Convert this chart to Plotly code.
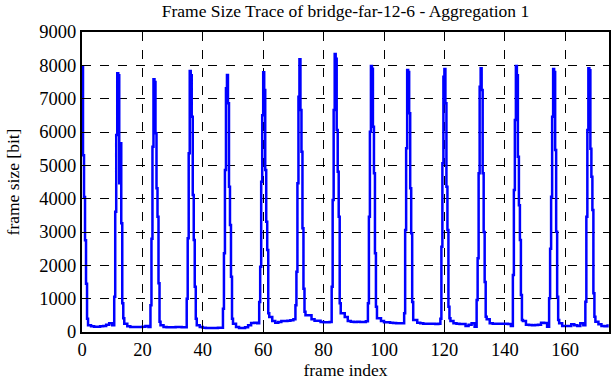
import plotly.graph_objects as go

# I-frame peak positions (frame index)
peak_frames = [0, 12, 24, 36, 48, 60, 72, 84, 96, 108, 120, 132, 144, 156, 168]
# sub-frame offsets around each peak
peak_offsets = [-1.33, -1.0, -0.67, -0.33, 0.0, 0.33, 0.67, 1.0, 1.33, 1.67]
# frame sizes [bit] around each peak (None = outside the trace)
peak_profiles = [
    [None, None, None, None, 7950, 5300, 4050, 2750, 1450, 400],
    [1060, 3610, 5910, 7760, 7700, 4460, 5660, 3260, 860, 410],
    [800, 2800, 5560, 7580, 7500, 5960, 4310, 3460, 1460, 310],
    [1000, 2810, 5360, 7830, 7700, 6460, 4110, 2760, 1360, 400],
    [700, 2360, 4860, 7310, 7710, 6860, 4360, 3210, 1660, 400],
    [900, 1960, 4510, 6500, 7790, 7260, 4860, 3310, 2460, 560],
    [800, 1810, 4460, 7060, 8180, 6660, 5410, 3110, 1300, 610],
    [1360, 3960, 6660, 8340, 8200, 6060, 4810, 3460, 860, 560],
    [860, 3460, 6010, 7980, 7900, 6160, 4760, 2360, 760, 410],
    [560, 3060, 5510, 7860, 7800, 6560, 4310, 2960, 900, 360],
    [400, 2560, 5060, 7660, 7890, 6860, 4360, 3060, 760, 410],
    [960, 2210, 4760, 7360, 7910, 7260, 4760, 3000, 1500, 460],
    [1710, 4260, 6360, 7980, 7700, 5260, 3800, 2760, 1110, 360],
    [1010, 2500, 4060, 6460, 7890, 7800, 5460, 3010, 1060, 360],
    [910, 3460, 6060, 7910, 7850, 5500, 4660, 3660, 1160, 460],
]
# frame sizes [bit] of frames p+2 ... p+10 after each peak
gop_tails = [
    [200, 170, 160, 160, 170, 180, 220, 260, 200],
    [250, 170, 150, 150, 150, 150, 160, 180, 150],
    [200, 150, 140, 140, 140, 150, 150, 140, 140],
    [200, 150, 130, 120, 120, 120, 120, 130, 130],
    [250, 150, 120, 120, 140, 200, 270, 280, 260],
    [450, 330, 280, 300, 330, 330, 340, 350, 380],
    [500, 500, 380, 340, 340, 300, 290, 290, 300],
    [560, 450, 330, 310, 300, 310, 300, 300, 320],
    [410, 330, 290, 290, 280, 270, 260, 260, 260],
    [360, 280, 260, 250, 250, 250, 250, 240, 250],
    [330, 260, 250, 240, 240, 180, 220, 260, 160],
    [380, 260, 250, 250, 250, 250, 250, 240, 180],
    [330, 220, 210, 200, 210, 220, 280, 270, 160],
    [260, 180, 180, 180, 230, 200, 180, 260, 200],
    [310, 230, 180, 170, 230],
]
x_ticks = [0, 20, 40, 60, 80, 100, 120, 140, 160]
y_ticks = [0, 1000, 2000, 3000, 4000, 5000, 6000, 7000, 8000, 9000]

xs, ys = [], []
for p, prof, tail in zip(peak_frames, peak_profiles, gop_tails):
    for off, v in zip(peak_offsets, prof):
        if v is None:
            continue
        xs.append(p + off)
        ys.append(v)
    for i, v in enumerate(tail):
        xs.append(p + 2 + i)
        ys.append(v)

fig = go.Figure()
fig.add_trace(go.Scatter(x=xs, y=ys, mode="lines", line_shape="hv",
                         line=dict(color="#0000ff", width=2.5), showlegend=False))

axis_common = dict(
    showline=True, linewidth=2, linecolor="black", mirror="allticks",
    ticks="inside", ticklen=6, tickwidth=1, tickcolor="black",
    showgrid=True, gridcolor="black", gridwidth=1, griddash="dash",
    zeroline=False, tickfont=dict(size=18.5, color="black"), automargin=False,
)
fig.update_xaxes(range=[0, 174.5], tickvals=x_ticks,
                 title=dict(text="frame index", font=dict(size=17.5), standoff=2),
                 **axis_common)
fig.update_yaxes(range=[0, 9000], tickvals=y_ticks,
                 title=dict(text="frame size [bit]", font=dict(size=17.5), standoff=15),
                 **axis_common)
fig.update_layout(
    width=612, height=382,
    margin=dict(l=82, r=3, t=32, b=50, autoexpand=False),
    paper_bgcolor="white", plot_bgcolor="white",
    font=dict(family="Liberation Serif", color="black"),
    title=dict(text="Frame Size Trace of bridge-far-12-6 - Aggregation 1",
               font=dict(size=17.5), x=0.5645, xanchor="center", y=0.972, yanchor="middle"),
)
fig.write_html("out.html", config={"displayModeBar": False},
               post_script="document.body.style.margin='0';document.body.style.overflow='hidden';")
